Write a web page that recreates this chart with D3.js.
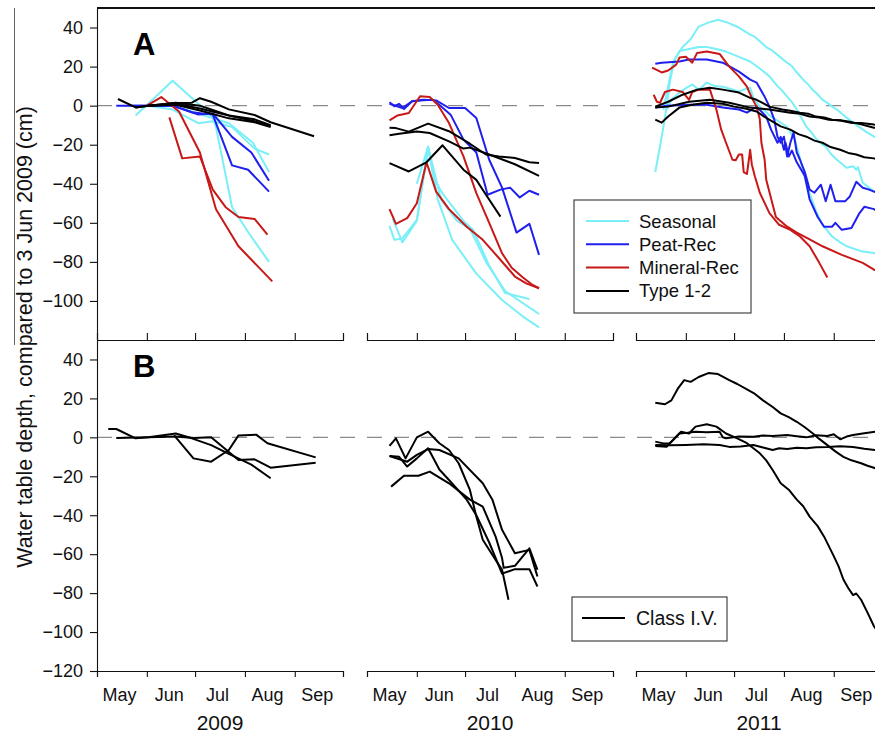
<!DOCTYPE html>
<html>
<head>
<meta charset="utf-8">
<script src="https://cdn.jsdelivr.net/npm/d3@7"></script>
<style>
  body { margin: 0; background: #fff; }
  svg { display: block; font-family: "Liberation Sans", Arial, Helvetica, sans-serif; }
</style>
</head>
<body>
<svg id="chart" width="875" height="735"></svg>
<script>
// ---- Axis labels and categories ----
const years = [2009, 2010, 2011];
const monthNames = ["May", "Jun", "Jul", "Aug", "Sep"];
const yTicksA = [40, 20, 0, -20, -40, -60, -80, -100];
const yTicksB = [40, 20, 0, -20, -40, -60, -80, -100, -120];
const classesA = ["Seasonal", "Peat-Rec", "Mineral-Rec", "Type 1-2"];
const classesB = ["Class I.V."];
const yTitle = "Water table depth, compared to 3 Jun 2009 (cm)";

// ---- Panel A: water table change per well, [MM-DD, cm] ----
const seasonal2009 = [
  [["05-25",-5],["06-17",12.8],["07-03",1],["07-12",-6],["07-14",-11],["07-24",-52],["08-04",-66],["08-16",-80]],
  [["06-02",0],["06-17",-2],["07-03",-9],["07-12",-8],["07-24",-11],["08-07",-22],["08-16",-25]],
  [["06-02",0],["06-17",0],["07-03",-4],["07-22",-9],["08-06",-19],["08-16",-34]]
];
const peat2009 = [
  [["05-13",0],["06-02",0],["06-17",0],["07-03",-4.5],["07-12",-4],["07-24",-16],["08-05",-24],["08-16",-38.5]],
  [["05-23",0],["06-17",0],["06-29",-3.4],["07-12",-4.6],["07-24",-30.6],["08-03",-32.8],["08-16",-44]]
];
const mineral2009 = [
  [["06-15",-6],["06-23",-27],["07-04",-26],["07-12",-43],["07-20",-52],["07-28",-57],["08-07",-58],["08-15",-66]],
  [["06-01",0],["06-10",4.4],["06-21",-3],["07-04",-24],["07-14",-53],["07-28",-72],["08-18",-90]]
];
const type2009 = [
  [["05-14",3.4],["05-25",-0.9],["06-02",0],["06-19",1.4],["06-29",1.5],["07-04",3.8],["07-11",2],["07-22",-1.9],["08-07",-4.8],["08-17",-8.5],["09-13",-15.7]],
  [["05-25",-1],["06-02",0],["06-19",1],["07-04",-1.5],["07-22",-5],["08-07",-8],["08-17",-10.5]],
  [["06-02",0],["06-19",0.5],["07-04",-2.5],["07-22",-6.5],["08-07",-8.5],["08-17",-11]],
  [["06-02",0],["06-19",1.5],["07-04",0],["07-11",-2],["07-22",-5],["08-07",-7],["08-17",-10]]
];

const seasonal2010 = [
  [["05-15",-61.5],["05-18",-68.7],["05-23",-68],["06-01",-58.5],["06-08",-21],["06-12",-38],["06-17",-45],["06-30",-59],["07-06",-63.6],["07-16",-82],["07-26",-96],["08-10",-99]],
  [["05-17",-58],["05-23",-70],["06-01",-59],["06-08",-22],["06-14",-48],["06-23",-68.7],["07-08",-86],["07-24",-99.5],["08-06",-108],["08-16",-113.5]],
  [["06-01",-40],["06-08",-21],["06-16",-48],["06-26",-59],["07-04",-63],["07-14",-80],["07-26",-95],["08-16",-106.7]]
];
const peat2010 = [
  [["05-15",1.7],["05-18",-0.3],["05-21",0.9],["05-24",-1.7],["05-29",2.2],["06-05",3],["06-13",2.7],["06-21",-1.2],["07-01",-1.2],["07-08",-6.3],["07-16",-27.7],["07-24",-42],["08-02",-65],["08-10",-60.5],["08-16",-76.4]],
  [["05-15",1],["05-23",-1.2],["05-29",2.2],["06-05",2.7],["06-11",3],["06-16",-0.3],["06-22",-4.6],["06-30",-17.4],["07-08",-24],["07-15",-45.6],["07-23",-43],["07-29",-42],["08-04",-47],["08-10",-43.6],["08-16",-45.6]]
];
const mineral2010 = [
  [["05-15",-7.5],["05-20",-5],["05-27",-3.8],["06-03",4.8],["06-09",4.4],["06-14",0.5],["06-21",-8.9],["06-30",-26],["07-08",-44.8],["07-16",-60],["07-24",-75.6],["07-30",-83],["08-06",-88],["08-12",-91.8],["08-16",-93.5]],
  [["05-15",-53],["05-19",-60.5],["05-26",-57.6],["06-01",-50],["06-07",-29],["06-13",-44],["06-21",-53],["07-02",-62],["07-12",-68.7],["07-22",-78],["08-01",-87.5],["08-08",-91],["08-16",-93.5]]
];
const type2010 = [
  [["05-15",-11.3],["05-19",-11.5],["05-27",-13.3],["06-08",-9.2],["06-21",-13.1],["07-04",-19.5],["07-14",-25],["07-22",-26],["08-01",-26.8],["08-10",-29],["08-16",-29.4]],
  [["05-15",-15.2],["05-21",-14.4],["06-01",-13.2],["06-09",-14],["06-21",-18.3],["06-30",-22],["07-04",-21.5],["07-16",-25],["08-01",-30],["08-16",-36]],
  [["05-15",-29.4],["05-27",-33.7],["06-07",-29],["06-17",-20.3],["06-30",-32.8],["07-08",-38],["07-14",-45.6],["07-23",-56.8]]
];

const seasonal2011 = [
  [["05-13",-34],["05-15",-25],["05-17",-16],["05-20",-1],["05-22",12],["05-25",23.6],["05-30",30],["06-04",34],["06-09",40.5],["06-15",42.5],["06-21",44],["06-27",42.5],["07-04",40],["07-11",36.4],["07-14",35.2],["07-17",33],["07-21",30],["07-24",28.6],["07-28",26],["08-03",22],["08-06",20.2],["08-08",18],["08-13",13.3],["08-16",10.9],["08-19",8],["08-22",5.8],["08-25",3],["08-28",1.4],["08-31",-0.5],["09-03",-2],["09-08",-5.5],["09-13",-8.7],["09-17",-11],["09-21",-13.3],["09-26",-15.9],["09-30",-17]],
  [["05-18",-2],["05-21",10],["05-24",22],["05-28",28],["06-03",29],["06-09",30],["06-14",30],["06-20",29],["06-26",27.7],["07-04",25],["07-11",22.6],["07-17",19],["07-23",15],["07-28",10],["07-31",7.6],["08-03",4.6],["08-06",1.8],["08-09",-2],["08-12",-6.4],["08-15",-10.8],["08-18",-13.6],["08-21",-17],["08-24",-19.4],["08-27",-21],["08-30",-24.5],["09-03",-27.7],["09-06",-29.8],["09-09",-31.8],["09-13",-31],["09-15",-32.8],["09-16",-31.5],["09-19",-39.5],["09-23",-42],["09-26",-44],["09-30",-45]],
  [["05-20",-2],["05-23",3],["05-27",6],["06-01",9],["06-05",10.8],["06-09",8.2],["06-14",11.8],["06-19",10],["06-24",9.7],["06-29",8.5],["07-04",7.2],["07-08",8.5],["07-11",9.2],["07-13",4],["07-17",-0.5],["07-24",-5.6],["08-03",-10.8],["08-08",-18],["08-11",-27],["08-14",-37],["08-17",-45],["08-21",-54],["08-25",-61],["08-31",-67],["09-05",-70],["09-09",-72],["09-18",-74.5],["09-26",-75.5],["09-30",-76]]
];
const peat2011 = [
  [["05-13",21.5],["05-17",22],["05-28",22.6],["06-03",23.6],["06-14",23.6],["06-24",22],["07-04",17.4],["07-11",13.3],["07-15",11.8],["07-20",4.6],["07-23",-0.5],["07-26",-7.2],["07-28",-15.9],["07-30",-19],["08-01",-15.9],["08-03",-26],["08-05",-19],["08-07",-13.8],["08-09",-24],["08-11",-27.7],["08-14",-34],["08-17",-43],["08-20",-44.6],["08-24",-40.5],["08-27",-49],["08-30",-40.5],["09-02",-49],["09-08",-49],["09-11",-46.5],["09-15",-39],["09-19",-42],["09-23",-43],["09-26",-44],["09-30",-45]],
  [["05-13",-1],["05-20",0],["06-03",0.5],["06-14",0.5],["06-24",-1],["07-04",-2],["07-09",-3.6],["07-15",-0.5],["07-21",-5.6],["07-24",-12.3],["07-28",-19],["07-30",-16],["08-01",-22.6],["08-02",-19],["08-04",-26],["08-06",-23],["08-09",-29],["08-14",-36],["08-17",-48],["08-22",-57],["08-26",-62],["08-31",-62],["09-02",-60],["09-06",-63.6],["09-12",-62.6],["09-17",-55],["09-20",-51.8],["09-26",-53],["09-30",-55]]
];
const mineral2011 = [
  [["05-11",19.5],["05-17",17],["05-21",18],["05-26",21],["05-28",24.6],["06-01",25],["06-05",22],["06-08",27],["06-14",27.7],["06-22",26.5],["06-28",20],["07-04",15],["07-09",9.7],["07-12",4],["07-15",-0.5],["07-17",-7],["07-18",-19],["07-20",-27.7],["07-21",-38],["07-27",-57],["08-03",-62],["08-09",-65],["08-17",-68.5],["08-25",-72],["09-06",-76.4],["09-19",-80.5],["09-26",-84],["09-30",-85]],
  [["05-12",5.6],["05-14",2],["05-16",1.5],["05-19",7],["05-24",8.2],["05-30",7],["06-03",3],["06-05",7],["06-09",8.2],["06-16",8.2],["06-18",3],["06-20",-2],["06-23",-12.3],["06-26",-19],["06-30",-27.7],["07-02",-28],["07-04",-25],["07-06",-25],["07-07",-34],["07-09",-35],["07-11",-22.6],["07-12",-30],["07-14",-36.4],["07-17",-44.6],["07-23",-55],["07-29",-61],["08-05",-63.6],["08-11",-67],["08-17",-72],["08-23",-80.5],["08-28",-88]]
];
const type2011 = [
  [["05-13",-7.2],["05-17",-8.7],["05-21",-5.6],["05-28",-1],["06-05",0.5],["06-14",1.5],["06-24",1],["07-01",-0.5],["07-08",-1.5],["07-15",-3],["07-20",-5.8],["07-25",-8.2],["07-30",-10.6],["08-05",-12.3],["08-10",-14.6],["08-15",-15.9],["08-20",-17.9],["08-25",-19],["08-30",-21.2],["09-05",-22.6],["09-10",-24.2],["09-15",-25],["09-20",-26.4],["09-26",-27],["09-30",-28]],
  [["05-13",-0.5],["05-21",2],["05-30",5.6],["06-08",8.2],["06-16",9.2],["06-24",8.2],["07-04",6.7],["07-11",4],["07-15",3],["07-23",-0.5],["07-31",-2],["08-05",-2.6],["08-11",-3.6],["08-16",-4.1],["08-21",-5.6],["08-26",-6.1],["08-31",-7.2],["09-05",-7.6],["09-11",-8.7],["09-18",-8.9],["09-26",-9.7],["09-30",-10]],
  [["05-13",-1],["05-21",-0.5],["06-03",2],["06-16",3],["06-28",1.5],["07-11",-1],["07-23",-2],["08-05",-3.6],["08-11",-4.2],["08-17",-5.6],["08-23",-6.1],["08-29",-7.2],["09-05",-7.5],["09-11",-8.2],["09-18",-9.6],["09-26",-11.3],["09-30",-11.5]]
];

// ---- Panel B: Class I.V. wells, [MM-DD, cm] ----
const classIV2009 = [
  [["05-08",4.3],["05-13",4.3],["05-25",-0.5],["06-02",0],["06-19",2],["06-29",-0.5],["07-11",-4],["07-22",-8.5],["08-05",-14],["08-17",-21]],
  [["05-13",-0.3],["06-02",0],["06-19",0.5],["06-30",-0.3],["07-11",0],["07-28",-11.6],["08-07",-11.3],["08-17",-15.6],["09-14",-13]],
  [["06-18",1],["06-30",-10.8],["07-11",-12.5],["07-22",-6.5],["07-28",1],["08-08",1.4],["08-15",-3],["09-14",-10.3]]
];
const classIV2010 = [
  [["05-15",-4.4],["05-19",-0.5],["05-25",-10.8],["06-01",0],["06-08",2.9],["06-15",-3],["06-21",-6.5],["06-27",-13.3],["07-04",-27],["07-08",-40.7],["07-12",-52.6],["07-20",-63],["07-24",-68],["07-28",-83.4]],
  [["05-15",-9.6],["05-21",-10],["05-26",-15],["06-01",-10.8],["06-08",-5.6],["06-15",-16.5],["06-21",-21.9],["07-02",-32],["07-08",-40],["07-16",-54],["07-24",-70],["08-01",-67.7],["08-10",-67.7],["08-15",-76.6]],
  [["05-15",-9.6],["05-26",-12.5],["06-01",-9],["06-08",-6],["06-15",-6.5],["06-27",-10.8],["07-12",-23.6],["07-18",-32],["07-24",-47.5],["08-01",-59.5],["08-10",-57.8],["08-15",-71.5]],
  [["05-16",-25.3],["05-24",-19.7],["06-02",-19.7],["06-09",-17.6],["06-21",-23.6],["07-04",-32],["07-12",-35.6],["07-20",-51],["07-24",-62],["07-25",-67],["08-01",-66],["08-10",-57],["08-15",-68]]
];
const classIV2011 = [
  [["05-13",17.8],["05-19",17],["05-23",19],["05-27",25],["05-31",29.4],["06-04",28.5],["06-09",31],["06-15",33],["06-21",32.5],["06-28",29.4],["07-03",27.4],["07-09",24.6],["07-14",22.3],["07-19",19],["07-25",15.6],["07-30",12.3],["08-04",10.4],["08-09",8],["08-14",5.2],["08-19",2],["08-23",-0.8],["08-28",-4],["09-02",-7.2],["09-07",-10],["09-12",-11.8],["09-18",-13.3],["09-22",-14.6],["09-27",-15.9],["09-30",-16.5]],
  [["05-13",-4.4],["05-20",-4.8],["05-24",-1.4],["05-29",2.9],["06-03",2],["06-07",5.5],["06-14",6.7],["06-20",5.5],["06-26",2],["07-03",-0.5],["07-09",-3],["07-17",-8.2],["07-21",-11.8],["07-25",-16.8],["07-30",-23.6],["08-04",-26.9],["08-09",-32],["08-13",-35.4],["08-17",-40.7],["08-22",-45.6],["08-26",-51],["09-01",-61],["09-04",-66.3],["09-07",-73],["09-10",-77.4],["09-13",-81],["09-15",-80.2],["09-18",-83.4],["09-22",-90],["09-26",-97],["09-30",-102]],
  [["05-13",-2.2],["05-18",-3.1],["05-22",-3],["05-28",2],["06-02",2.4],["06-07",2.9],["06-14",2.6],["06-22",2.9],["06-24",0],["06-26",-0.5],["07-04",0.4],["07-13",0.3],["07-19",0.9],["07-25",0.7],["08-03",1.2],["08-09",0.6],["08-15",0],["08-21",1.1],["08-28",0.7],["09-01",1.6],["09-05",-1],["09-09",0.4],["09-13",1.2],["09-20",2.1],["09-27",2.9],["09-30",3]],
  [["05-13",-3.9],["05-22",-4.1],["06-01",-3.9],["06-12",-3.6],["06-22",-3.9],["06-28",-4.9],["07-05",-4.7],["07-13",-3.9],["07-19",-5.2],["07-25",-6.5],["07-29",-5.6],["08-03",-6],["08-09",-5.4],["08-15",-5.6],["08-21",-5.1],["08-28",-5],["09-05",-4.6],["09-13",-5],["09-20",-5.9],["09-27",-6.5],["09-30",-6.5]]
];

// ---- Styles ----
const classColor = {
  "Seasonal": "#7aeff8",
  "Peat-Rec": "#1f1fee",
  "Mineral-Rec": "#c81818",
  "Type 1-2": "#000000",
  "Class I.V.": "#000000"
};

const svg = d3.select("#chart");
const left = 97, right = 875;
const panelA = { top: 8, bottom: 340 };
const panelB = { top: 340, bottom: 671 };

const yA = d3.scaleLinear().domain([-120, 50]).range([panelA.bottom, panelA.top]);
const yB = d3.scaleLinear().domain([-120, 50]).range([panelB.bottom, panelB.top]);

// One time scale per season, laid side by side with gaps (broken axis)
const segRange = { 2009: [97, 343], 2010: [367, 613], 2011: [636, 882] };
const xs = {};
years.forEach(yr => {
  xs[yr] = d3.scaleTime()
    .domain([new Date(yr, 4, 1), new Date(yr, 9, 1)])
    .range(segRange[yr]);
});
const parse = (yr, s) => { const [m, d] = s.split("-").map(Number); return new Date(yr, m - 1, d); };

// clip everything to the drawing area
svg.append("defs").append("clipPath").attr("id", "plotclip")
  .append("rect").attr("x", left).attr("y", 0).attr("width", right - left).attr("height", 735);

// ---- zero reference lines ----
[yA, yB].forEach(y => {
  svg.append("line")
    .attr("x1", left).attr("x2", right)
    .attr("y1", y(0)).attr("y2", y(0))
    .attr("stroke", "#8a8a8a").attr("stroke-width", 1.2)
    .attr("stroke-dasharray", "15,12");
});

// ---- series ----
function drawSeries(series, yr, y, cls) {
  const x = xs[yr];
  const line = d3.line()
    .x(d => x(parse(yr, d[0])))
    .y(d => y(d[1]));
  svg.append("g").attr("clip-path", "url(#plotclip)")
    .selectAll("path").data(series).join("path")
    .attr("d", line)
    .attr("fill", "none")
    .attr("stroke", classColor[cls])
    .attr("stroke-width", 2)
    .attr("stroke-linejoin", "round");
}

const groupsA = [
  ["Seasonal", { 2009: seasonal2009, 2010: seasonal2010, 2011: seasonal2011 }],
  ["Peat-Rec", { 2009: peat2009, 2010: peat2010, 2011: peat2011 }],
  ["Mineral-Rec", { 2009: mineral2009, 2010: mineral2010, 2011: mineral2011 }],
  ["Type 1-2", { 2009: type2009, 2010: type2010, 2011: type2011 }]
];
groupsA.forEach(([cls, byYear]) => years.forEach(yr => drawSeries(byYear[yr], yr, yA, cls)));

const groupsB = { 2009: classIV2009, 2010: classIV2010, 2011: classIV2011 };
years.forEach(yr => drawSeries(groupsB[yr], yr, yB, "Class I.V."));

// ---- axes ----
const tickFont = 18;
function styleAxis(g) {
  g.selectAll("path, line").attr("stroke", "#111").attr("stroke-width", 1.1);
  g.selectAll("text").attr("font-size", tickFont).attr("fill", "#111")
    .attr("font-family", "'Liberation Sans', Arial, sans-serif");
}

svg.append("g").attr("transform", `translate(${left},0)`)
  .call(d3.axisLeft(yA).tickValues(yTicksA).tickSize(7).tickSizeOuter(0).tickPadding(7))
  .call(styleAxis);
svg.append("g").attr("transform", `translate(${left},0)`)
  .call(d3.axisLeft(yB).tickValues(yTicksB).tickSize(7).tickSizeOuter(0).tickPadding(7))
  .call(styleAxis);

// frame line across the top of panel A
svg.append("line").attr("x1", left).attr("x2", right)
  .attr("y1", panelA.top).attr("y2", panelA.top)
  .attr("stroke", "#111").attr("stroke-width", 1.8);

years.forEach(yr => {
  const x = xs[yr];
  const monthStarts = d3.range(4, 10).map(m => new Date(yr, m, 1));
  // boundary between panels A and B
  svg.append("g").attr("transform", `translate(0,${panelA.bottom})`)
    .call(d3.axisTop(x).tickValues(monthStarts).tickFormat("").tickSize(7).tickSizeOuter(7))
    .call(styleAxis);
  // bottom axis of panel B
  svg.append("g").attr("transform", `translate(0,${panelB.bottom})`)
    .call(d3.axisBottom(x).tickValues(monthStarts).tickFormat("").tickSize(6).tickSizeOuter(6))
    .call(styleAxis);
  // month names centred in each month
  svg.append("g").selectAll("text").data(monthNames).join("text")
    .attr("x", (d, i) => x(new Date(yr, 4 + i, 15)))
    .attr("y", 701)
    .attr("text-anchor", "middle")
    .attr("font-size", tickFont).attr("fill", "#111")
    .text(d => d);
  // season label
  svg.append("text")
    .attr("x", d3.mean(x.range())).attr("y", 730)
    .attr("text-anchor", "middle")
    .attr("font-size", 21).attr("fill", "#111")
    .text(yr);
});

// ---- y title ----
svg.append("line").attr("x1", 14.5).attr("x2", 14.5).attr("y1", 8).attr("y2", 345)
  .attr("stroke", "#666").attr("stroke-width", 1);
svg.append("text")
  .attr("transform", "translate(32,337) rotate(-90)")
  .attr("text-anchor", "middle")
  .attr("font-size", 21.5).attr("fill", "#111")
  .text(yTitle);

// ---- panel letters ----
svg.append("text").attr("x", 133).attr("y", 55)
  .attr("font-size", 31).attr("font-weight", "bold").text("A");
svg.append("text").attr("x", 133).attr("y", 377)
  .attr("font-size", 31).attr("font-weight", "bold").text("B");

// ---- legends ----
function legend(x0, y0, w, h, items, rowStep, lineX0, lineX1, textX, firstRowY, fontSize) {
  const g = svg.append("g");
  g.append("rect").attr("x", x0).attr("y", y0).attr("width", w).attr("height", h)
    .attr("fill", "#fff").attr("stroke", "#333").attr("stroke-width", 1.1);
  items.forEach((cls, i) => {
    const yy = firstRowY + i * rowStep;
    g.append("line").attr("x1", lineX0).attr("x2", lineX1).attr("y1", yy).attr("y2", yy)
      .attr("stroke", classColor[cls]).attr("stroke-width", 2);
    g.append("text").attr("x", textX).attr("y", yy + 6.5)
      .attr("font-size", fontSize).attr("fill", "#111").text(cls);
  });
}
legend(574, 200, 177, 113, classesA, 23.3, 586, 629, 639, 221, 18.5);
legend(572, 597, 155, 44, classesB, 0, 582, 625, 636, 618, 19.5);
</script>
</body>
</html>
